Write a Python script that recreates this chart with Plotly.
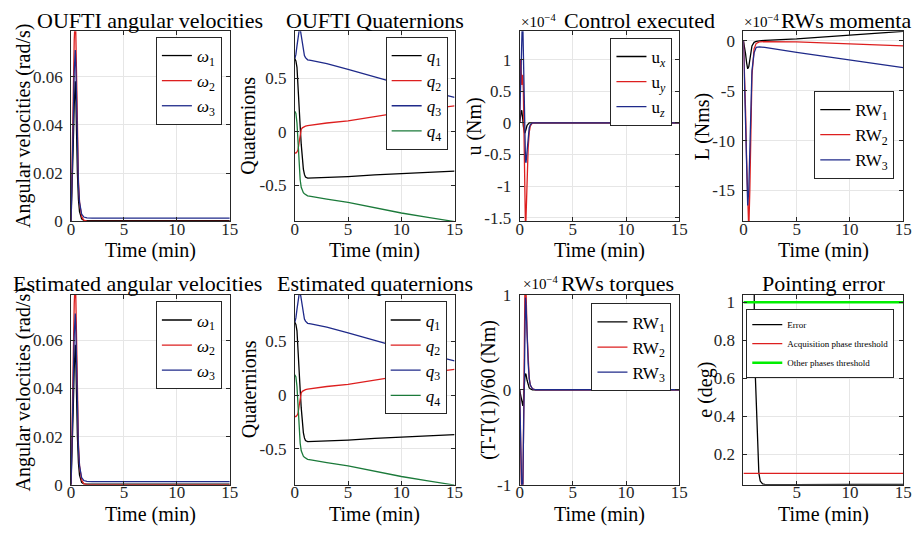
import plotly.graph_objects as go

# ---------------- data ----------------
t_w = [0, 0.1, 0.2, 0.3, 0.4, 0.45, 0.5, 0.6, 0.7, 0.8, 1.0, 1.2, 1.5, 2, 5, 10, 15]
w1 = [0, 0.012, 0.03, 0.048, 0.058, 0.052, 0.04, 0.02, 0.009, 0.004, 0.001, 0.0004, 0.0003, 0.0003, 0.0003, 0.0003, 0.0003]
w2 = [0, 0.02, 0.05, 0.075, 0.085, 0.078, 0.062, 0.035, 0.017, 0.008, 0.002, 0.0005, 0.0001, 0, 0, 0, 0]
w3 = [0, 0.015, 0.04, 0.062, 0.071, 0.065, 0.052, 0.03, 0.015, 0.008, 0.003, 0.0018, 0.0014, 0.0013, 0.0013, 0.0013, 0.0013]

t_q = [0, 0.1, 0.2, 0.3, 0.4, 0.5, 0.6, 0.7, 0.8, 0.9, 1.0, 1.2, 1.5, 2, 3, 5, 7.5, 10, 12.5, 15]
q1 = [0.68, 0.66, 0.6, 0.45, 0.25, 0.05, -0.12, -0.26, -0.35, -0.4, -0.425, -0.435, -0.434, -0.432, -0.428, -0.42, -0.405, -0.395, -0.383, -0.37]
q2 = [-0.2, -0.2, -0.19, -0.17, -0.1, -0.02, 0.02, 0.035, 0.042, 0.046, 0.05, 0.055, 0.06, 0.068, 0.08, 0.1, 0.14, 0.18, 0.21, 0.24]
q3 = [0.68, 0.72, 0.8, 0.88, 0.94, 0.96, 0.9, 0.8, 0.74, 0.71, 0.69, 0.67, 0.665, 0.655, 0.635, 0.58, 0.51, 0.44, 0.38, 0.32]
q4 = [0.19, 0.17, 0.08, -0.1, -0.3, -0.45, -0.52, -0.55, -0.57, -0.58, -0.59, -0.6, -0.605, -0.615, -0.63, -0.66, -0.71, -0.76, -0.8, -0.84]

t_u = [0, 0.05, 0.1, 0.15, 0.2, 0.25, 0.3, 0.35, 0.4, 0.45, 0.5, 0.55, 0.6, 0.7, 0.8, 0.9, 1.0, 1.2, 1.5, 2, 15]
ux = [0, 0.1, 0.15, 0.18, 0.2, 0.15, 0.05, -0.05, -0.12, -0.15, -0.16, -0.14, -0.1, -0.04, -0.01, 0, 0, 0, 0, 0, 0]
uy = [0, 0.6, 1.0, 0.8, 0.6, 0.7, 0.76, 0.5, -0.2, -1.0, -1.6, -1.7, -1.5, -0.9, -0.4, -0.15, -0.05, 0, 0, 0, 0]
uz = [0, 0.3, 0.7, 1.1, 1.45, 1.6, 1.55, 1.1, 0.5, -0.1, -0.45, -0.6, -0.63, -0.4, -0.2, -0.08, -0.03, 0, 0, 0, 0]

t_L = [0, 0.1, 0.2, 0.3, 0.4, 0.5, 0.6, 0.7, 0.8, 1.0, 1.2, 1.5, 2, 5, 10, 15]
L1 = [0, -0.5, -1.3, -2.2, -2.8, -2.6, -1.8, -1.0, -0.5, -0.15, -0.05, 0, 0.05, 0.2, 0.55, 0.95]
L2 = [0, -3, -7, -12, -17, -19, -15, -8, -3.5, -0.8, -0.25, -0.1, -0.08, -0.1, -0.3, -0.5]
L3 = [0, -3.5, -8, -13, -16.5, -15, -11, -6, -3, -1.2, -0.65, -0.6, -0.65, -1.16, -1.9, -2.68]

t_T = [0, 0.05, 0.1, 0.15, 0.2, 0.25, 0.3, 0.35, 0.4, 0.45, 0.5, 0.55, 0.6, 0.7, 0.8, 0.9, 1.0, 1.2, 1.5, 2, 15]
T1 = [0, -0.03, -0.06, -0.1, -0.13, -0.15, -0.17, -0.12, 0, 0.1, 0.15, 0.17, 0.16, 0.1, 0.05, 0.02, 0.01, 0, 0, 0, 0]
T2 = [0, -0.4, -0.8, -1.1, -1.2, -1.2, -1.1, -0.6, 0.1, 0.8, 1.1, 1.15, 1.05, 0.6, 0.3, 0.12, 0.05, 0.01, 0, 0, 0]
T3 = [0, -0.3, -0.7, -0.95, -1.05, -1.1, -1.0, -0.6, 0, 0.6, 0.9, 0.97, 0.9, 0.55, 0.28, 0.12, 0.05, 0.01, 0, 0, 0]

t_e = [0.02, 0.5, 0.95, 1.0, 1.02, 1.1, 1.2, 1.3, 1.36, 1.45, 1.58, 1.8, 2.0, 3, 5, 10, 15]
err = [60, 30, 3, 1.2, 0.8, 0.64, 0.45, 0.27, 0.16, 0.1, 0.06, 0.045, 0.042, 0.041, 0.041, 0.042, 0.042]
t_thr = [0, 15]
acq_thr = [0.1, 0.1]
oth_thr = [1.0, 1.0]

# ---------------- styling ----------------
W, H = 923, 546
FONT = "Liberation Serif"
BLACK, RED, BLUE, GREEN, LGREEN = "#000000", "#dd1f1f", "#1f2a8a", "#1b7a3a", "#00ee00"
TITLE_FS, LABEL_FS, TICK_FS, LEG_FS, EXP_FS = 22, 20, 17, 17, 15

cols = [(68, 229), (295, 457), (523, 685), (750, 912)]
rows = [(23, 220), (296, 493)]

def px(x):
    return x / W

def py(y):
    return 1 - y / H

fig = go.Figure()

panels = [(r, c) for r in range(2) for c in range(4)]

def axname(i, kind):
    return f"{kind}axis" if i == 0 else f"{kind}axis{i+1}"

def ref(i, kind):
    return kind if i == 0 else f"{kind}{i+1}"

def add(i, x, y, name, color, legend, width=1.3):
    fig.add_trace(go.Scatter(x=x, y=y, name=name, mode="lines",
                             line=dict(color=color, width=width),
                             xaxis=ref(i, "x"), yaxis=ref(i, "y"),
                             legend=legend))

sub = lambda s: f"<sub>{s}</sub>"

for i, lg in [(0, "legend"), (4, "legend5")]:
    add(i, t_w, w1, "<i>ω</i>" + sub("1"), BLACK, lg)
    add(i, t_w, w2, "<i>ω</i>" + sub("2"), RED, lg)
    add(i, t_w, w3, "<i>ω</i>" + sub("3"), BLUE, lg)
for i, lg in [(1, "legend2"), (5, "legend6")]:
    add(i, t_q, q1, "<i>q</i>" + sub("1"), BLACK, lg)
    add(i, t_q, q2, "<i>q</i>" + sub("2"), RED, lg)
    add(i, t_q, q3, "<i>q</i>" + sub("3"), BLUE, lg)
    add(i, t_q, q4, "<i>q</i>" + sub("4"), GREEN, lg)
add(2, t_u, ux, "u" + sub("<i>x</i>"), BLACK, "legend3")
add(2, t_u, uy, "u" + sub("<i>y</i>"), RED, "legend3")
add(2, t_u, uz, "u" + sub("<i>z</i>"), BLUE, "legend3")
add(3, t_L, L1, "RW" + sub("1"), BLACK, "legend4")
add(3, t_L, L2, "RW" + sub("2"), RED, "legend4")
add(3, t_L, L3, "RW" + sub("3"), BLUE, "legend4")
add(6, t_T, T1, "RW" + sub("1"), BLACK, "legend7")
add(6, t_T, T2, "RW" + sub("2"), RED, "legend7")
add(6, t_T, T3, "RW" + sub("3"), BLUE, "legend7")
add(7, t_e, err, "Error", BLACK, "legend8")
add(7, t_thr, acq_thr, "Acquisition phase threshold", RED, "legend8")
add(7, t_thr, oth_thr, "Other phases threshold", LGREEN, "legend8", width=2.5)

yranges = [[0, 0.0788], [-0.838, 0.937], [-1.557, 1.45], [-18.1, 0.97],
           [0, 0.0788], [-0.838, 0.937], [-1, 1], [0.04, 1.04]]
yticks = [
    ([0, 0.02, 0.04, 0.06], ["0", "0.02", "0.04", "0.06"]),
    ([-0.5, 0, 0.5], ["-0.5", "0", "0.5"]),
    ([-1.5, -1, -0.5, 0, 0.5, 1], ["-1.5", "-1", "-0.5", "0", "0.5", "1"]),
    ([-15, -10, -5, 0], ["-15", "-10", "-5", "0"]),
    ([0, 0.02, 0.04, 0.06], ["0", "0.02", "0.04", "0.06"]),
    ([-0.5, 0, 0.5], ["-0.5", "0", "0.5"]),
    ([-1, 0, 1], ["-1", "0", "1"]),
    ([0.2, 0.4, 0.6, 0.8, 1], ["0.2", "0.4", "0.6", "0.8", "1"]),
]

axis_common = dict(showline=True, linecolor="#262626", linewidth=1, mirror="ticks",
                   ticks="inside", ticklen=4, tickcolor="#262626",
                   showgrid=True, gridcolor="#e6e6e6", gridwidth=1, zeroline=False,
                   tickfont=dict(family=FONT, size=TICK_FS, color="#262626"))

for i, (r, c) in enumerate(panels):
    x0, x1 = cols[c]
    y0, y1 = rows[r]
    xt = [5, 10, 15] if i == 7 else [0, 5, 10, 15]
    fig.layout[axname(i, "x")] = dict(axis_common, domain=[px(x0), px(x1)], range=[0, 15],
                                       tickvals=xt, ticktext=[str(v) for v in xt],
                                       ticklabelstandoff=-8, anchor=ref(i, "y"))
    tv, tt = yticks[i]
    fig.layout[axname(i, "y")] = dict(axis_common, domain=[py(y1), py(y0)], range=yranges[i],
                                       tickvals=tv, ticktext=tt, ticklabelstandoff=4,
                                       anchor=ref(i, "x"))

leg_pos = {
    "legend": (221, 29, LEG_FS), "legend2": (450, 29, LEG_FS), "legend3": (678, 30, LEG_FS),
    "legend4": (903, 85, LEG_FS), "legend5": (221, 303, LEG_FS), "legend6": (449, 303, LEG_FS),
    "legend7": (677, 305, LEG_FS), "legend8": (903, 311, 9),
}
for name, (xr, yt, fs) in leg_pos.items():
    fig.layout[name] = dict(x=px(xr), y=py(yt), xanchor="right", yanchor="top",
                            bgcolor="white", bordercolor="#262626", borderwidth=1,
                            font=dict(family=FONT, size=fs, color="#000000"),
                            tracegroupgap=0, itemwidth=30)

anns = []
def text(x, y, s, size=TITLE_FS, angle=0, xanchor="center"):
    anns.append(dict(x=px(x), y=py(y), xref="paper", yref="paper", text=s, showarrow=False,
                     textangle=angle, xanchor=xanchor, yanchor="middle",
                     font=dict(family=FONT, size=size, color="#000000")))

EXP = "×10<sup>−4</sup>"
# titles
text(148.5, 12, "OUFTI angular velocities")
text(376, 12, "OUFTI Quaternions")
text(522, 12, EXP, size=EXP_FS, xanchor="left")
text(566, 12, "Control executed", xanchor="left")
text(749, 12, EXP, size=EXP_FS, xanchor="left")
text(786, 12, "RWs momenta", xanchor="left")
text(135, 284, "Estimated angular velocities")
text(376, 284, "Estimated quaternions")
text(524, 284, EXP, size=EXP_FS, xanchor="left")
text(563, 284, "RWs torques", xanchor="left")
text(831, 284, "Pointing error")
# x axis titles
for r, yy in [(0, 250), (1, 524)]:
    for c in range(4):
        text((cols[c][0] + cols[c][1]) / 2, yy, "Time (min)", size=LABEL_FS)
# y axis titles
ylabels = [(20, 0, "Angular velocities (rad/s)"), (248, 0, "Quaternions"), (477, 0, "u (Nm)"),
           (708, 0, "L (Nms)"), (20, 1, "Angular velocities (rad/s)"), (248, 1, "Quaternions"),
           (492, 1, "(T-T(1))/60 (Nm)"), (712, 1, "e (deg)")]
for x, r, s in ylabels:
    text(x, (rows[r][0] + rows[r][1]) / 2, s, size=LABEL_FS, angle=-90)

fig.update_layout(width=W, height=H, margin=dict(l=0, r=0, t=0, b=0),
                  paper_bgcolor="white", plot_bgcolor="white",
                  annotations=anns, showlegend=True)

fig.write_html("out.html")
